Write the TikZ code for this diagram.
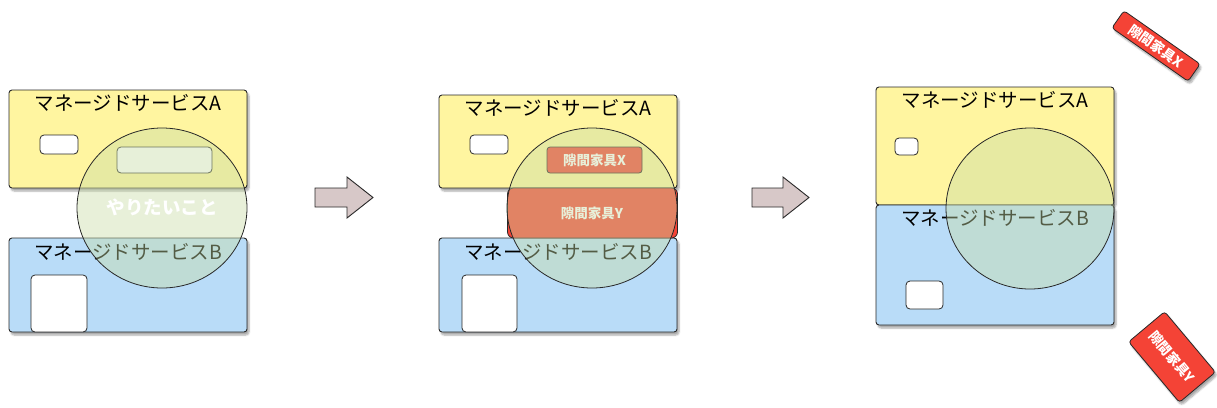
\documentclass[tikz,border=0pt]{standalone}
\usepackage{fontspec}
\newfontfamily\jp{Noto Sans CJK JP}
\usetikzlibrary{shadows.blur,shapes.geometric}
\definecolor{ayel}{RGB}{255,245,160}
\definecolor{bblue}{RGB}{185,220,248}
\definecolor{circ}{RGB}{200,220,165}
\definecolor{tagred}{RGB}{244,67,54}
\definecolor{arr}{RGB}{215,200,200}
\definecolor{edge}{RGB}{40,40,40}
\begin{document}
\begin{tikzpicture}[x=1pt,y=-1pt,
  shad/.style={blur shadow={shadow xshift=2pt, shadow yshift=-3pt, shadow opacity=35, shadow blur steps=6}},
  svc/.style={draw=edge, line width=0.9pt, rounded corners=3pt, shad, inner sep=0pt},
  svca/.style={svc, fill=ayel},
  svcb/.style={svc, fill=bblue},
  slot/.style={draw=edge, line width=0.8pt, fill=white, rounded corners=4pt, inner sep=0pt},
  title/.style={font=\jp\fontsize{19.5}{22}\selectfont, text=black, inner sep=0pt},
  wish/.style={draw=edge, line width=0.8pt, ellipse, fill=circ, fill opacity=0.42, inner sep=0pt},
  redbox/.style={draw=edge, line width=0.8pt, fill=tagred, rounded corners=3pt, inner sep=0pt},
  tagtxt/.style={font=\jp\bfseries\fontsize{13.5}{15}\selectfont, text=white, inner sep=0pt},
  blockarrow/.style={draw=edge, line width=0.9pt, fill=arr, line join=miter}
]
\useasboundingbox (0,0) rectangle (1217,407);

% ---------- panel 1 ----------
\node[svca, minimum width=238, minimum height=98] (a1) at (128,139) {};
\node[svcb, minimum width=238, minimum height=94] (b1) at (128,285) {};
\node[slot, minimum width=38, minimum height=19] (s1a) at (59,144.5) {};
\node[slot, minimum width=95, minimum height=26] (s1b) at (164.5,160) {};
\node[slot, minimum width=56, minimum height=57] (s1c) at (59,303.5) {};
\node[title] (ta1) at (128,103) {マネージドサービスA};
\node[title] (tb1) at (128,252) {マネージドサービスB};
\node[wish, minimum width=170, minimum height=160] (c1) at (162,208) {};
\node[font=\jp\bfseries\fontsize{18.5}{20}\selectfont, text=white, inner sep=0pt] (w1) at (162,207) {やりたいこと};

% ---------- arrow 1 ----------
\draw[blockarrow] (315,188) -- (347,188) -- (347,177) -- (373,197.5) -- (347,218) -- (347,207) -- (315,207) -- cycle;

% ---------- panel 2 ----------
\node[svca, minimum width=238, minimum height=93] (a2) at (558,141.5) {};
\node[svcb, minimum width=238, minimum height=94] (b2) at (558,285) {};
\node[slot, minimum width=38, minimum height=19] (s2a) at (489,144.5) {};
\node[redbox, minimum width=95, minimum height=26] (x2) at (594.5,160) {};
\node[tagtxt] (x2t) at (594.5,160) {隙間家具X};
\node[redbox, rounded corners=6pt, minimum width=170, minimum height=50] (y2) at (592.5,213) {};
\node[tagtxt] (y2t) at (592,213) {隙間家具Y};
\node[slot, minimum width=55, minimum height=57] (s2c) at (489.5,303.5) {};
\node[title] (ta2) at (558,108) {マネージドサービスA};
\node[title] (tb2) at (558,252) {マネージドサービスB};
\node[wish, minimum width=170, minimum height=160] (c2) at (592,208) {};

% ---------- arrow 2 ----------
\draw[blockarrow] (752,188) -- (783,188) -- (783,177) -- (809,197.5) -- (783,218) -- (783,207) -- (752,207) -- cycle;

% ---------- panel 3 ----------
\node[svca, minimum width=238, minimum height=118] (a3) at (995,146) {};
\node[svcb, minimum width=238, minimum height=120] (b3) at (995,265) {};
\node[slot, minimum width=23, minimum height=17] (s3a) at (906.5,146.5) {};
\node[slot, minimum width=37, minimum height=28] (s3b) at (924.5,295) {};
\node[title] (ta3) at (995,100) {マネージドサービスA};
\node[title] (tb3) at (995,218) {マネージドサービスB};
\node[wish, minimum width=168, minimum height=161] (c3) at (1030,208.5) {};

% ---------- loose tags ----------
\node[redbox, shad, minimum width=93, minimum height=21, rotate=-35] (x3) at (1156,46) {};
\node[tagtxt, rotate=-35] (x3t) at (1156,46) {隙間家具X};
\node[redbox, shad, minimum width=79, minimum height=47, rotate=-50] (y3) at (1172,357) {};
\node[tagtxt, rotate=-50] (y3t) at (1172,357) {隙間家具Y};
\end{tikzpicture}
\end{document}
